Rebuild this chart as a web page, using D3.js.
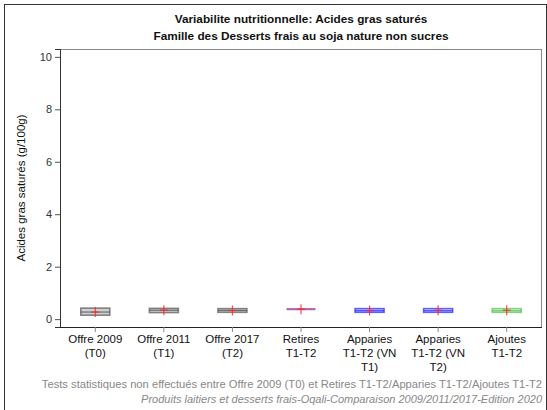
<!DOCTYPE html>
<html><head><meta charset="utf-8">
<script src="https://cdn.jsdelivr.net/npm/d3@7"></script>
<style>body{margin:0;background:#fff}svg{display:block}text{font-family:"Liberation Sans",Arial,sans-serif}</style>
</head><body>
<svg id="c" width="547" height="410"></svg>
<script>
const categories = ["Offre 2009 (T0)","Offre 2011 (T1)","Offre 2017 (T2)","Retires T1-T2","Apparies T1-T2 (VN T1)","Apparies T1-T2 (VN T2)","Ajoutes T1-T2"];
const catLabels = [["Offre 2009","(T0)"],["Offre 2011","(T1)"],["Offre 2017","(T2)"],["Retires","T1-T2"],["Apparies","T1-T2 (VN","T1)"],["Apparies","T1-T2 (VN","T2)"],["Ajoutes","T1-T2"]];
const q1Values     = [0.15, 0.25, 0.26, 0.38, 0.26, 0.26, 0.26];
const medianValues = [0.27, 0.34, 0.33, 0.38, 0.32, 0.32, 0.32];
const q3Values     = [0.42, 0.41, 0.40, 0.38, 0.40, 0.40, 0.40];
const meanValues   = [0.27, 0.34, 0.33, 0.38, 0.33, 0.34, 0.34];
const boxColors    = ["#555","#555","#555","#a040a0","#2020ff","#2020ff","#50c050"];
const boxFills     = ["#d0d0d0","#d0d0d0","#d0d0d0","#d8b0d8","#d8d8ff","#e4e4ff","#e4f6e4"];
const yTicks = [0,2,4,6,8,10];
const titleLines = ["Variabilite nutritionnelle: Acides gras saturés","Famille des Desserts frais au soja nature non sucres"];
const yLabel = "Acides gras saturés (g/100g)";
const footer1 = "Tests statistiques non effectués entre Offre 2009 (T0) et Retires T1-T2/Apparies T1-T2/Ajoutes T1-T2";
const footer2 = "Produits laitiers et desserts frais-Oqali-Comparaison 2009/2011/2017-Edition 2020";

const svg = d3.select("#c");
const L=60, R=542, T=49, B=327;
svg.append("rect").attr("x",4.5).attr("y",4.5).attr("width",542).attr("height",410).attr("fill","none").attr("stroke","#333");

const x = d3.scaleBand().domain(categories).range([L+1,R-1]).paddingInner(0).paddingOuter(0);
const y = d3.scaleLinear().domain([-0.3,10.3]).range([B,T]);

svg.append("line").attr("x1",L).attr("x2",R).attr("y1",T+0.5).attr("y2",T+0.5).attr("stroke","#888");
svg.append("line").attr("x1",R-0.5).attr("x2",R-0.5).attr("y1",T).attr("y2",B).attr("stroke","#888");

const ya = svg.append("g").attr("transform",`translate(${L},0)`).call(d3.axisLeft(y).tickValues(yTicks).tickSize(5).tickPadding(3).tickFormat(d3.format("d")));
ya.select(".domain").attr("stroke","#333");
ya.selectAll(".tick line").attr("stroke","#555");
ya.selectAll("text").attr("font-size",11).attr("fill","#333").style("font-family","Liberation Sans, Arial, sans-serif");

const xa = svg.append("g").attr("transform",`translate(0,${B})`).call(d3.axisBottom(x).tickSize(5).tickFormat(""));
xa.select(".domain").attr("stroke","#222").attr("d",`M${L},0.5H${R}`);
xa.selectAll(".tick line").attr("stroke","#888");

categories.forEach((c,i)=>{
  const cx = x(c)+x.bandwidth()/2;
  const t = svg.append("text").attr("x",cx).attr("y",B+16).attr("text-anchor","middle").attr("font-size",11.5).attr("fill","#111");
  catLabels[i].forEach((s,j)=>t.append("tspan").attr("x",cx).attr("dy",j?14:0).text(s));
});

const bw = 29;
const g = svg.append("g");
categories.forEach((c,i)=>{
  const cx = x(c)+x.bandwidth()/2;
  const col = boxColors[i];
  if (q3Values[i] > q1Values[i]) {
    g.append("rect").attr("x",cx-bw/2).attr("y",y(q3Values[i])).attr("width",bw).attr("height",y(q1Values[i])-y(q3Values[i]))
      .attr("fill",boxFills[i]).attr("stroke",col).attr("stroke-width",1.6).attr("stroke-opacity",0.7);
  }
  g.append("line").attr("x1",cx-bw/2).attr("x2",cx+bw/2).attr("y1",y(medianValues[i])).attr("y2",y(medianValues[i]))
    .attr("stroke",col).attr("stroke-width",q3Values[i]>q1Values[i]?1.2:2.2).attr("stroke-opacity",0.8);
  const my = y(meanValues[i]);
  g.append("line").attr("x1",cx-4).attr("x2",cx+4).attr("y1",my).attr("y2",my).attr("stroke","#ff2020").attr("stroke-width",1.2).attr("stroke-opacity",0.8);
  g.append("line").attr("x1",cx).attr("x2",cx).attr("y1",my-5).attr("y2",my+5).attr("stroke","#ff2020").attr("stroke-width",1.2).attr("stroke-opacity",0.8);
});

const tx = (L+R)/2;
titleLines.forEach((s,i)=>svg.append("text").attr("x",tx).attr("y",23+i*17).attr("text-anchor","middle").attr("font-size",11.8).attr("font-weight","bold").attr("fill","#111").text(s));

svg.append("text").attr("transform",`translate(25,${(T+B)/2}) rotate(-90)`).attr("text-anchor","middle").attr("font-size",11.5).attr("fill","#111").text(yLabel);

svg.append("text").attr("x",R).attr("y",388).attr("text-anchor","end").attr("font-size",11.2).attr("fill","#888").text(footer1);
svg.append("text").attr("x",R).attr("y",403).attr("text-anchor","end").attr("font-size",11).attr("font-style","italic").attr("fill","#888").text(footer2);
</script>
</body></html>
